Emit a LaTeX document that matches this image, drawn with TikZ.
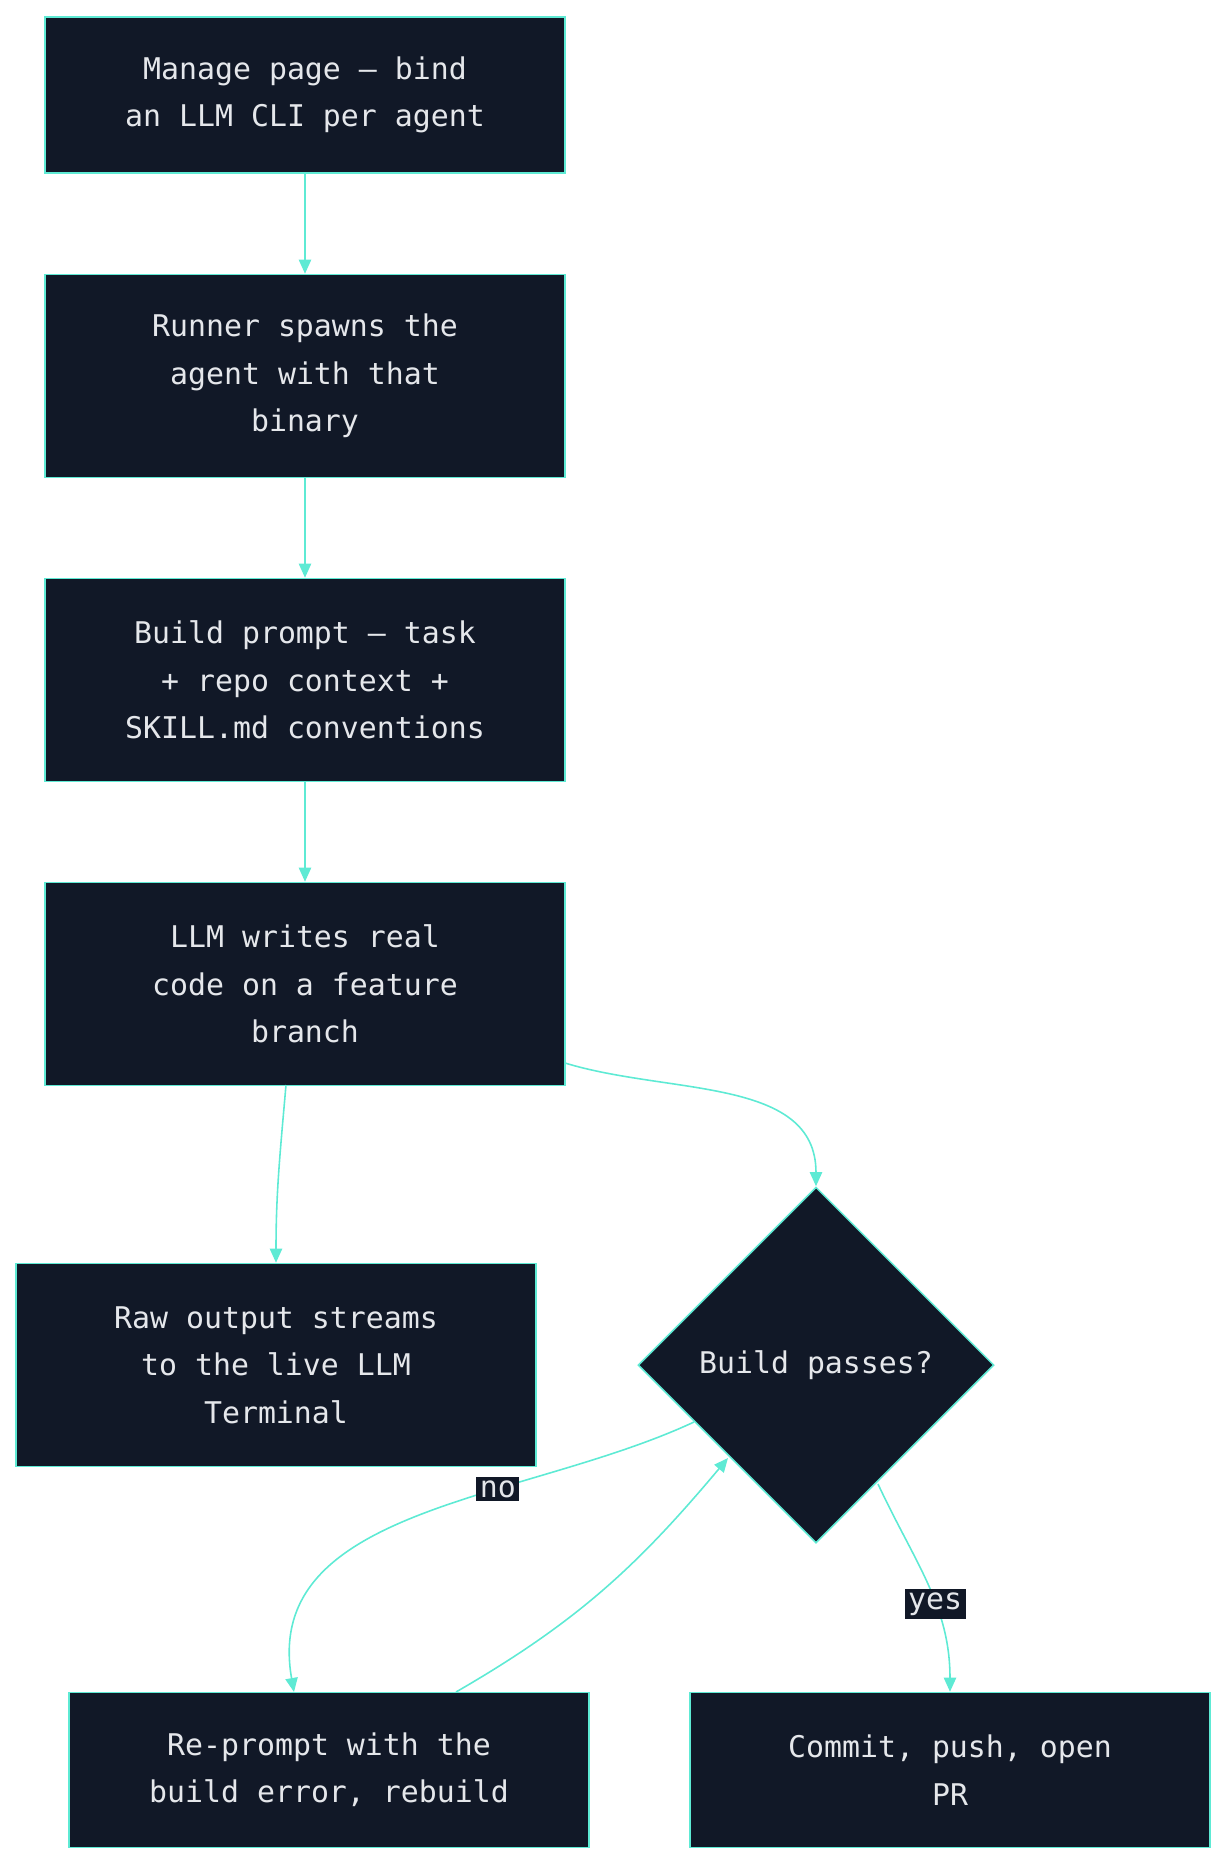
\documentclass[tikz,border=0pt]{standalone}
\usepackage{fontspec}
\setmainfont{DejaVu Sans Mono}
\usetikzlibrary{shapes.geometric,arrows.meta}
\definecolor{boxfill}{HTML}{111827}
\definecolor{linkc}{HTML}{5EEAD4}
\definecolor{txt}{HTML}{E5E7EB}
\tikzset{
  stage/.style={draw=linkc, fill=boxfill, text=txt, line width=0.9pt, minimum width=10.4cm,
    align=center, font=\fontsize{17}{27}\selectfont},
  flow/.style={draw=linkc, line width=0.9pt, -{Triangle[length=8pt,width=7pt]}},
  tag/.style={fill=boxfill, text=txt, inner sep=2pt, font=\fontsize{17}{20}\selectfont}
}
\begin{document}
\begin{tikzpicture}[x=0.02cm, y=-0.02cm]
	\useasboundingbox (0,0) rectangle (1226,1864);

	\node[stage, minimum height=3.12cm] (manage) at (305,95) {Manage page — bind\\an LLM CLI per agent};
	\node[stage, minimum height=4.06cm] (runner) at (305,376) {Runner spawns the\\agent with that\\binary};
	\node[stage, minimum height=4.06cm] (prompt) at (305,680) {Build prompt — task\\+ repo context +\\SKILL.md conventions};
	\node[stage, minimum height=4.06cm] (writes) at (305,984) {LLM writes real\\code on a feature\\branch};
	\node[stage, minimum height=4.06cm] (raw) at (276,1365) {Raw output streams\\to the live LLM\\Terminal};
	\node[diamond, draw=linkc, fill=boxfill, text=txt, line width=0.9pt, inner sep=0pt,
		minimum width=7.12cm, minimum height=7.12cm, font=\fontsize{17}{27}\selectfont] (check) at (816,1365) {Build passes?};
	\node[stage, minimum height=3.1cm] (retry) at (329,1770) {Re-prompt with the\\build error, rebuild};
	\node[stage, minimum height=3.1cm] (commit) at (950,1770) {Commit, push, open\\PR};

	\draw[flow] (manage) -- (runner);
	\draw[flow] (runner) -- (prompt);
	\draw[flow] (prompt) -- (writes);
	\coordinate (w1) at (286,1085);
	\draw[flow] (w1) to[out=-95, in=90] (raw.north);
	\coordinate (w2) at (565,1063);
	\draw[flow] (w2) to[out=-17, in=90] (check.north);
	\coordinate (c1) at (694,1422);
	\coordinate (r1) at (294,1692);
	\draw[flow] (c1) to[out=-155, in=100] node[tag, pos=0.35] {no} (r1);
	\coordinate (r2) at (456,1692);
	\coordinate (c2) at (728,1458);
	\draw[flow] (r2) to[out=30, in=-130] (c2);
	\coordinate (c3) at (878,1484);
	\draw[flow] (c3) to[out=-65, in=90] node[tag, pos=0.6] {yes} (commit.north);
\end{tikzpicture}
\end{document}
